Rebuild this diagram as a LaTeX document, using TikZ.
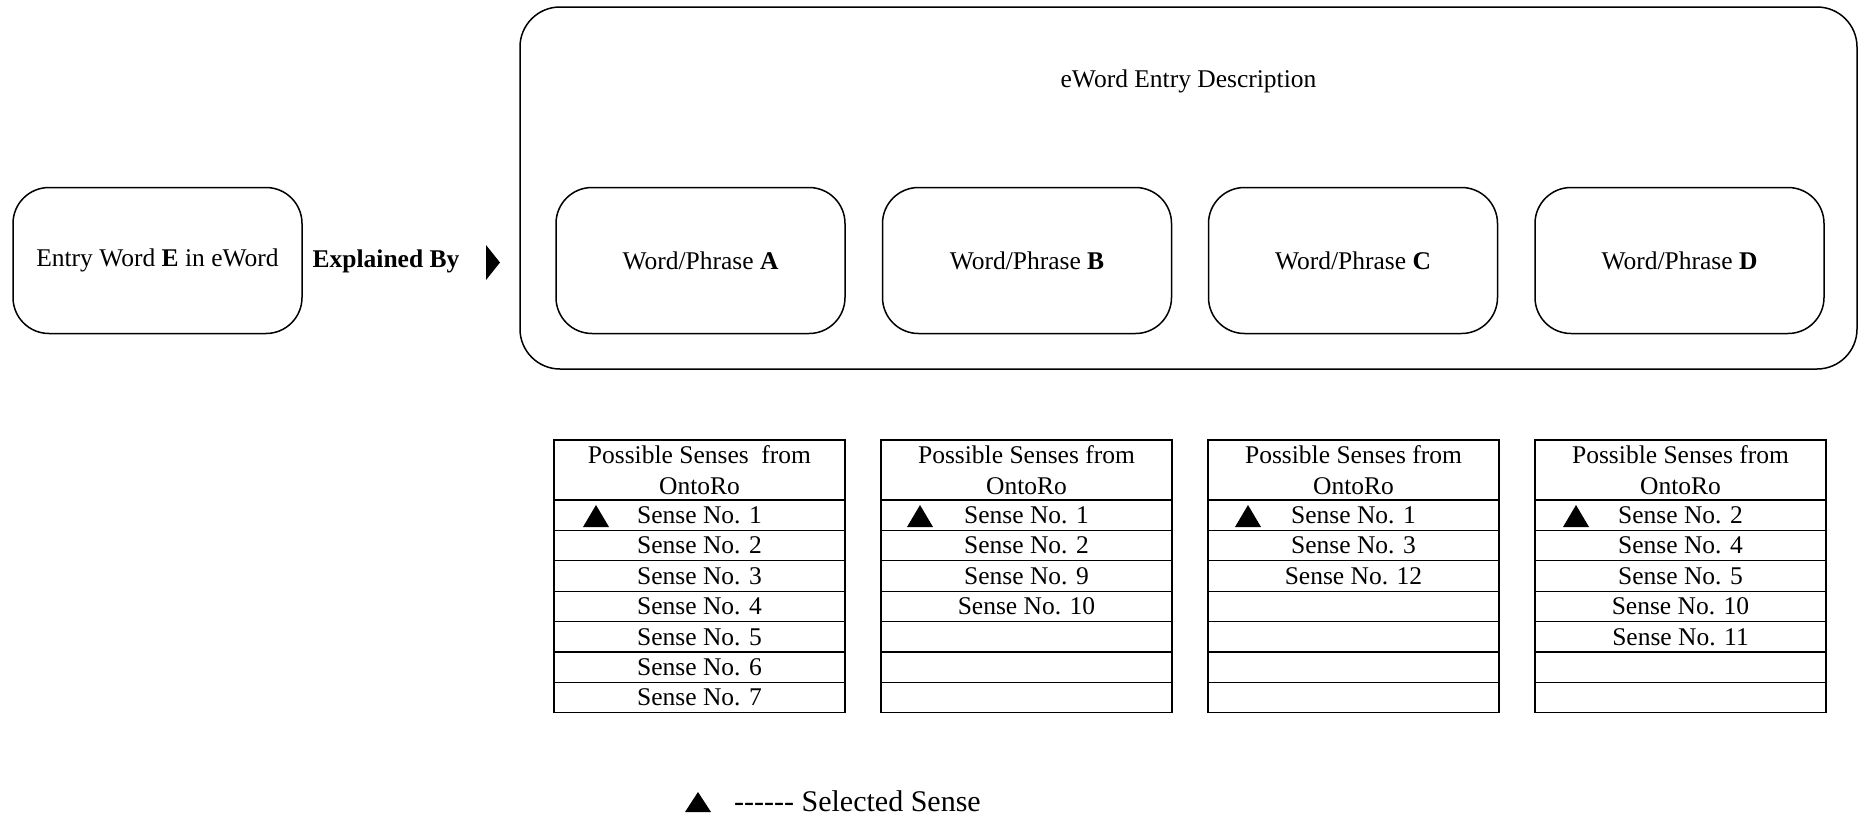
\documentclass[tikz,border=0pt]{standalone}
\usepackage{fontspec}
\setmainfont{Liberation Serif}
\newcommand\myfs{\fontsize{25.5}{31}\selectfont}
\newcommand\mylegfs{\fontsize{30}{34}\selectfont}
\tikzset{
  rbox/.style={draw, line width=1.5pt, rounded corners=36pt, minimum width=289pt, minimum height=146pt, inner sep=0pt, font=\myfs},
  bigbox/.style={draw, line width=1.5pt, rounded corners=40pt, minimum width=1337pt, minimum height=362pt, inner sep=0pt},
  hdr/.style={draw, line width=1.2pt, minimum width=291pt, minimum height=60pt, inner sep=0pt, align=center, font=\myfs},
  cell/.style={draw, line width=1.2pt, minimum width=291pt, minimum height=30.4pt, inner sep=0pt, font=\myfs},
  lbl/.style={inner sep=0pt, font=\myfs},
  selmark/.style={fill=black},
}
\newcommand\senstable[5]{%
  \node[hdr] (#1h) at (#2+145.5, 470) {#5};
  \foreach \t [count=\i] in {#3} {
    \node[cell] (#1r\i) at (#2+145.5, 484.8+30.4*\i) {\t};
  }
  \fill[selmark] (#2+#4-13, 527) -- (#2+#4, 505) -- (#2+#4+13, 527) -- cycle;
}
\begin{document}
\begin{tikzpicture}[x=1pt, y=-1pt]
\useasboundingbox (0,0) rectangle (1858,815);

% big description box
\node[bigbox] (desc) at (1188.5, 188) {};
\node[lbl] (desct) at (1188.5, 81) {eWord Entry Description};

% entry word
\node[rbox] (entry) at (157.5, 260.5) {Entry Word \textbf{E} in eWord};
\node[lbl, font=\myfs\bfseries] (expl) at (386, 261) {Explained By};
\coordinate (arrA) at (486, 245);
\coordinate (arrB) at (500, 262.5);
\coordinate (arrC) at (486, 280);
\fill[selmark] (arrA) -- (arrB) -- (arrC) -- cycle;

% word/phrase boxes
\node[rbox] (wa) at (700.5, 260.5) {Word/Phrase \textbf{A}};
\node[rbox] (wb) at (1027, 260.5) {Word/Phrase \textbf{B}};
\node[rbox] (wc) at (1353, 260.5) {Word/Phrase \textbf{C}};
\node[rbox] (wd) at (1679.5, 260.5) {Word/Phrase \textbf{D}};

% sense tables
\senstable{ta}{554}{Sense No. 1,Sense No. 2,Sense No. 3,Sense No. 4,Sense No. 5,Sense No. 6,Sense No. 7}{42}{Possible Senses\ \ from\\OntoRo}
\senstable{tb}{881}{Sense No. 1,Sense No. 2,Sense No. 9,Sense No. 10,{},{},{}}{39}{Possible Senses from\\OntoRo}
\senstable{tc}{1208}{Sense No. 1,Sense No. 3,Sense No. 12,{},{},{},{}}{40}{Possible Senses from\\OntoRo}
\senstable{td}{1535}{Sense No. 2,Sense No. 4,Sense No. 5,Sense No. 10,Sense No. 11,{},{}}{41}{Possible Senses from\\OntoRo}

% legend
\coordinate (lgA) at (685, 812);
\coordinate (lgB) at (698, 792);
\coordinate (lgC) at (711, 812);
\fill[selmark] (lgA) -- (lgB) -- (lgC) -- cycle;
\node[inner sep=0pt, anchor=base west, font=\mylegfs] (legt) at (734, 811) {-{}-{}-{}-{}-{}- Selected Sense};
\end{tikzpicture}
\end{document}
